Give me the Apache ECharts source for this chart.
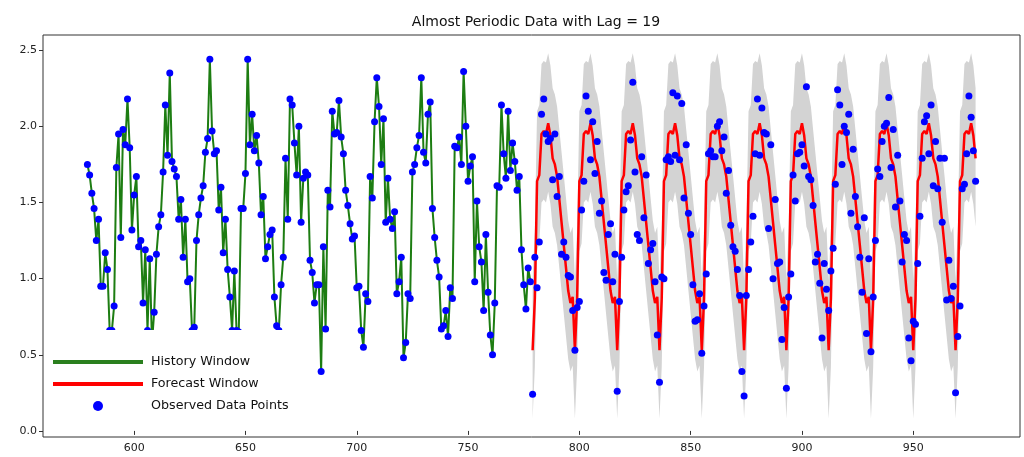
<!DOCTYPE html>
<html lang="en">
<head>
    <meta charset="UTF-8">
    <title>Almost Periodic Data with Lag = 19</title>
    <script src="https://cdn.jsdelivr.net/npm/echarts@6/dist/echarts.min.js"></script>
    <style>
        html, body { margin: 0; padding: 0; background: #fff; }
    </style>
</head>
<body>
<div id="chart" style="width:1024px;height:457px;"></div>
<script>
    var historyStart = 579;
    var forecastStart = 779;

    // history window, x = 579..778
    var historyValues = [
        1.75, 1.68, 1.56, 1.46, 1.25, 1.39, 0.95, 0.95, 1.17, 1.06,
        0.66, 0.66, 0.82, 1.73, 1.95, 1.27, 1.98, 1.88, 2.18, 1.86,
        1.32, 1.55, 1.67, 1.21, 1.25, 0.84, 1.19, 0.66, 1.13, 0.58,
        0.78, 1.16, 1.34, 1.42, 1.70, 2.14, 1.81, 2.35, 1.77, 1.72,
        1.67, 1.39, 1.52, 1.14, 1.39, 0.98, 1.00, 0.66, 0.68, 1.25,
        1.42, 1.53, 1.61, 1.83, 1.92, 2.44, 1.97, 1.82, 1.84, 1.45,
        1.60, 1.17, 1.39, 1.06, 0.88, 0.66, 1.05, 0.66, 0.65, 1.46,
        1.46, 1.69, 2.44, 1.88, 2.08, 1.84, 1.94, 1.76, 1.42, 1.54,
        1.13, 1.21, 1.29, 1.32, 0.88, 0.69, 0.66, 0.96, 1.14, 1.79,
        1.39, 2.18, 2.14, 1.89, 1.68, 2.00, 1.37, 1.66, 1.70, 1.68,
        1.12, 1.04, 0.84, 0.96, 0.96, 0.39, 1.21, 0.67, 1.58, 1.47,
        2.10, 1.95, 1.96, 2.17, 1.93, 1.82, 1.58, 1.48, 1.36, 1.26,
        1.28, 0.94, 0.95, 0.66, 0.55, 0.90, 0.85, 1.67, 1.53, 2.03,
        2.32, 2.13, 1.75, 2.05, 1.37, 1.66, 1.39, 1.33, 1.44, 0.90,
        0.98, 1.14, 0.48, 0.58, 0.90, 0.87, 1.70, 1.75, 1.86, 1.94,
        2.32, 1.83, 1.76, 2.08, 2.16, 1.46, 1.27, 1.12, 1.01, 0.67,
        0.69, 0.79, 0.62, 0.94, 0.87, 1.87, 1.86, 1.93, 1.75, 2.36,
        2.00, 1.64, 1.74, 1.80, 0.98, 1.51, 1.21, 1.11, 0.79, 1.29,
        0.91, 0.63, 0.50, 0.84, 1.61, 1.60, 2.14, 1.82, 1.66, 2.10,
        1.71, 1.89, 1.77, 1.58, 1.67, 1.19, 0.96, 0.80, 1.07, 0.98
    ];

    // observed points inside the forecast window, x = 779..978
    var observedFuture = [
        0.24, 1.14, 0.94, 1.24, 2.08, 2.18, 1.95, 1.90, 1.92, 1.65, 1.95, 1.54, 1.67, 1.16, 1.24, 1.14, 1.02, 1.01, 0.79,
        0.53, 0.81, 0.85, 1.45, 1.64, 2.20, 2.10, 1.78, 2.03, 1.69, 1.90, 1.43, 1.51, 1.04, 0.99, 1.29, 1.36, 0.98, 1.16,
        0.26, 0.85, 1.14, 1.45, 1.57, 1.61, 1.91, 2.29, 1.70, 1.29, 1.25, 1.80, 1.40, 1.68, 1.10, 1.19, 1.23, 0.98, 0.63,
        0.32, 1.01, 1.00, 1.78, 1.80, 1.77, 2.22, 1.81, 2.20, 1.78, 2.15, 1.53, 1.88, 1.43, 1.29, 0.96, 0.72, 0.73, 0.90,
        0.51, 0.82, 1.03, 1.82, 1.84, 1.80, 1.80, 2.00, 2.03, 1.84, 1.93, 1.56, 1.71, 1.35, 1.21, 1.18, 1.06, 0.89, 0.39,
        0.23, 0.89, 1.06, 1.24, 1.41, 1.82, 2.18, 1.81, 2.12, 1.96, 1.95, 1.33, 1.88, 1.00, 1.52, 1.10, 1.11, 0.60, 0.81,
        0.28, 0.88, 1.03, 1.68, 1.51, 1.82, 1.83, 1.88, 1.74, 2.26, 1.67, 1.65, 1.48, 1.11, 1.16, 0.97, 0.61, 1.10, 0.93,
        0.79, 1.05, 1.20, 1.62, 2.24, 2.14, 1.75, 2.00, 1.96, 2.08, 1.43, 1.85, 1.54, 1.34, 1.14, 0.91, 1.40, 0.64, 1.13,
        0.52, 0.88, 1.25, 1.72, 1.67, 1.90, 2.00, 2.02, 2.19, 1.73, 1.98, 1.47, 1.81, 1.51, 1.11, 1.29, 1.25, 0.61, 0.46,
        0.72, 0.70, 1.10, 1.41, 1.79, 2.03, 2.07, 1.82, 2.14, 1.61, 1.90, 1.59, 1.79, 1.37, 1.79, 0.86, 1.12, 0.87, 0.95,
        0.25, 0.62, 0.82, 1.59, 1.62, 1.82, 2.20, 2.06, 1.84, 1.64
    ];

    // forecast mean and its band, x = 779..978
    var forecast = [
        0.53, 0.87, 1.64, 1.68, 1.95, 1.97, 1.95, 2.02, 1.94, 1.79, 1.75, 1.67, 1.52, 1.37, 1.22, 1.07, 0.92, 0.84, 0.88,
        0.53, 0.87, 1.64, 1.68, 1.95, 1.97, 1.95, 2.02, 1.94, 1.79, 1.75, 1.67, 1.52, 1.37, 1.22, 1.07, 0.92, 0.84, 0.88,
        0.53, 0.87, 1.64, 1.68, 1.95, 1.97, 1.95, 2.02, 1.94, 1.79, 1.75, 1.67, 1.52, 1.37, 1.22, 1.07, 0.92, 0.84, 0.88,
        0.53, 0.87, 1.64, 1.68, 1.95, 1.97, 1.95, 2.02, 1.94, 1.79, 1.75, 1.67, 1.52, 1.37, 1.22, 1.07, 0.92, 0.84, 0.88,
        0.53, 0.87, 1.64, 1.68, 1.95, 1.97, 1.95, 2.02, 1.94, 1.79, 1.75, 1.67, 1.52, 1.37, 1.22, 1.07, 0.92, 0.84, 0.88,
        0.53, 0.87, 1.64, 1.68, 1.95, 1.97, 1.95, 2.02, 1.94, 1.79, 1.75, 1.67, 1.52, 1.37, 1.22, 1.07, 0.92, 0.84, 0.88,
        0.53, 0.87, 1.64, 1.68, 1.95, 1.97, 1.95, 2.02, 1.94, 1.79, 1.75, 1.67, 1.52, 1.37, 1.22, 1.07, 0.92, 0.84, 0.88,
        0.53, 0.87, 1.64, 1.68, 1.95, 1.97, 1.95, 2.02, 1.94, 1.79, 1.75, 1.67, 1.52, 1.37, 1.22, 1.07, 0.92, 0.84, 0.88,
        0.53, 0.87, 1.64, 1.68, 1.95, 1.97, 1.95, 2.02, 1.94, 1.79, 1.75, 1.67, 1.52, 1.37, 1.22, 1.07, 0.92, 0.84, 0.88,
        0.53, 0.87, 1.64, 1.68, 1.95, 1.97, 1.95, 2.02, 1.94, 1.79, 1.75, 1.67, 1.52, 1.37, 1.22, 1.07, 0.92, 0.84, 0.88,
        0.53, 0.87, 1.64, 1.68, 1.95, 1.97, 1.95, 2.02, 1.94, 1.79
    ];
    var forecastLower = [
        0.08, 0.42, 1.18, 1.23, 1.50, 1.52, 1.50, 1.57, 1.49, 1.34, 1.30, 1.22, 1.07, 0.92, 0.77, 0.62, 0.47, 0.39, 0.43,
        0.08, 0.42, 1.18, 1.23, 1.50, 1.52, 1.50, 1.57, 1.49, 1.34, 1.30, 1.22, 1.07, 0.92, 0.77, 0.62, 0.47, 0.39, 0.43,
        0.08, 0.42, 1.18, 1.23, 1.50, 1.52, 1.50, 1.57, 1.49, 1.34, 1.30, 1.22, 1.07, 0.92, 0.77, 0.62, 0.47, 0.39, 0.43,
        0.08, 0.42, 1.18, 1.23, 1.50, 1.52, 1.50, 1.57, 1.49, 1.34, 1.30, 1.22, 1.07, 0.92, 0.77, 0.62, 0.47, 0.39, 0.43,
        0.08, 0.42, 1.18, 1.23, 1.50, 1.52, 1.50, 1.57, 1.49, 1.34, 1.30, 1.22, 1.07, 0.92, 0.77, 0.62, 0.47, 0.39, 0.43,
        0.08, 0.42, 1.18, 1.23, 1.50, 1.52, 1.50, 1.57, 1.49, 1.34, 1.30, 1.22, 1.07, 0.92, 0.77, 0.62, 0.47, 0.39, 0.43,
        0.08, 0.42, 1.18, 1.23, 1.50, 1.52, 1.50, 1.57, 1.49, 1.34, 1.30, 1.22, 1.07, 0.92, 0.77, 0.62, 0.47, 0.39, 0.43,
        0.08, 0.42, 1.18, 1.23, 1.50, 1.52, 1.50, 1.57, 1.49, 1.34, 1.30, 1.22, 1.07, 0.92, 0.77, 0.62, 0.47, 0.39, 0.43,
        0.08, 0.42, 1.18, 1.23, 1.50, 1.52, 1.50, 1.57, 1.49, 1.34, 1.30, 1.22, 1.07, 0.92, 0.77, 0.62, 0.47, 0.39, 0.43,
        0.08, 0.42, 1.18, 1.23, 1.50, 1.52, 1.50, 1.57, 1.49, 1.34, 1.30, 1.22, 1.07, 0.92, 0.77, 0.62, 0.47, 0.39, 0.43,
        0.08, 0.42, 1.18, 1.23, 1.50, 1.52, 1.50, 1.57, 1.49, 1.34
    ];
    var forecastUpper = [
        0.99, 1.33, 2.10, 2.14, 2.41, 2.43, 2.42, 2.48, 2.40, 2.25, 2.21, 2.13, 1.98, 1.83, 1.68, 1.53, 1.38, 1.30, 1.34,
        0.99, 1.33, 2.10, 2.14, 2.41, 2.43, 2.42, 2.48, 2.40, 2.25, 2.21, 2.13, 1.98, 1.83, 1.68, 1.53, 1.38, 1.30, 1.34,
        0.99, 1.33, 2.10, 2.14, 2.41, 2.43, 2.42, 2.48, 2.40, 2.25, 2.21, 2.13, 1.98, 1.83, 1.68, 1.53, 1.38, 1.30, 1.34,
        0.99, 1.33, 2.10, 2.14, 2.41, 2.43, 2.42, 2.48, 2.40, 2.25, 2.21, 2.13, 1.98, 1.83, 1.68, 1.53, 1.38, 1.30, 1.34,
        0.99, 1.33, 2.10, 2.14, 2.41, 2.43, 2.42, 2.48, 2.40, 2.25, 2.21, 2.13, 1.98, 1.83, 1.68, 1.53, 1.38, 1.30, 1.34,
        0.99, 1.33, 2.10, 2.14, 2.41, 2.43, 2.42, 2.48, 2.40, 2.25, 2.21, 2.13, 1.98, 1.83, 1.68, 1.53, 1.38, 1.30, 1.34,
        0.99, 1.33, 2.10, 2.14, 2.41, 2.43, 2.42, 2.48, 2.40, 2.25, 2.21, 2.13, 1.98, 1.83, 1.68, 1.53, 1.38, 1.30, 1.34,
        0.99, 1.33, 2.10, 2.14, 2.41, 2.43, 2.42, 2.48, 2.40, 2.25, 2.21, 2.13, 1.98, 1.83, 1.68, 1.53, 1.38, 1.30, 1.34,
        0.99, 1.33, 2.10, 2.14, 2.41, 2.43, 2.42, 2.48, 2.40, 2.25, 2.21, 2.13, 1.98, 1.83, 1.68, 1.53, 1.38, 1.30, 1.34,
        0.99, 1.33, 2.10, 2.14, 2.41, 2.43, 2.42, 2.48, 2.40, 2.25, 2.21, 2.13, 1.98, 1.83, 1.68, 1.53, 1.38, 1.30, 1.34,
        0.99, 1.33, 2.10, 2.14, 2.41, 2.43, 2.42, 2.48, 2.40, 2.25
    ];

    var xTicks = [600, 650, 700, 750, 800, 850, 900, 950];
    var yTicks = [0.0, 0.5, 1.0, 1.5, 2.0, 2.5];

    function toPairs(start, values) {
        return values.map(function (v, i) { return [start + i, v]; });
    }

    var bandData = forecastLower.map(function (l, i) {
        return [forecastStart + i, l, forecastUpper[i]];
    });

    var font = 'DejaVu Sans';
    var lineIcon = 'path://M0 0H90V4H0Z';

    var myChart = echarts.init(document.getElementById('chart'));
    var option = {
        animation: false,
        title: {
            text: 'Almost Periodic Data with Lag = 19',
            left: 531,
            textAlign: 'center',
            top: 10,
            textStyle: { fontFamily: font, fontSize: 14, fontWeight: 'normal', color: '#111' }
        },
        legend: {
            data: [
                { name: 'History Window', icon: lineIcon },
                { name: 'Forecast Window', icon: lineIcon },
                { name: 'Observed Data Points', icon: 'circle' }
            ],
            orient: 'vertical',
            left: 45,
            top: 330,
            z: 10,
            padding: [25, 10, 9, 8],
            backgroundColor: '#fff',
            itemWidth: 90,
            itemHeight: 10,
            itemGap: 8,
            selectedMode: false,
            textStyle: { fontFamily: font, fontSize: 12.7, color: '#111', lineHeight: 14, padding: [0, 0, 0, 3] }
        },
        grid: {
            left: 43, right: 4, top: 35, bottom: 20,
            show: true, borderColor: '#333', borderWidth: 1,
            outerBoundsMode: 'none'
        },
        xAxis: {
            type: 'value',
            min: 559.05,
            max: 997.95,
            splitLine: { show: false },
            axisLine: { show: false },
            axisTick: { show: true, length: 4, lineStyle: { color: '#333' }, customValues: xTicks },
            axisLabel: { margin: 6, fontFamily: font, fontSize: 11, color: '#222', customValues: xTicks }
        },
        yAxis: {
            type: 'value',
            min: -0.04,
            max: 2.6,
            splitLine: { show: false },
            axisLine: { show: false },
            axisTick: { show: true, length: 4, lineStyle: { color: '#333' }, customValues: yTicks },
            axisLabel: {
                margin: 6, fontFamily: font, fontSize: 11, color: '#222', customValues: yTicks,
                formatter: function (v) { return v.toFixed(1); }
            }
        },
        series: [
            {
                name: 'band',
                type: 'custom',
                data: bandData,
                encode: { x: 0, y: [1, 2] },
                silent: true,
                clip: true,
                z: 1,
                renderItem: function (params, api) {
                    if (params.dataIndex !== 0) {
                        return null;
                    }
                    var top = [];
                    var bottom = [];
                    for (var i = 0; i < bandData.length; i++) {
                        top.push(api.coord([bandData[i][0], bandData[i][2]]));
                        bottom.unshift(api.coord([bandData[i][0], bandData[i][1]]));
                    }
                    return {
                        type: 'polygon',
                        shape: { points: top.concat(bottom) },
                        style: { fill: '#d3d3d3' }
                    };
                }
            },
            {
                name: 'History Window',
                type: 'line',
                data: toPairs(historyStart, historyValues),
                symbol: 'none',
                color: '#2a7f1e',
                lineStyle: { color: '#1d7d12', width: 2 },
                z: 2
            },
            {
                name: 'Forecast Window',
                type: 'line',
                data: toPairs(forecastStart, forecast),
                symbol: 'none',
                color: '#ff0000',
                lineStyle: { color: '#ff0000', width: 2.5 },
                z: 2
            },
            {
                name: 'Observed Data Points',
                type: 'scatter',
                data: toPairs(historyStart, historyValues.concat(observedFuture)),
                symbolSize: 7,
                itemStyle: { color: '#0000ff', opacity: 1 },
                z: 3
            }
        ]
    };
    myChart.setOption(option);
</script>
</body>
</html>
